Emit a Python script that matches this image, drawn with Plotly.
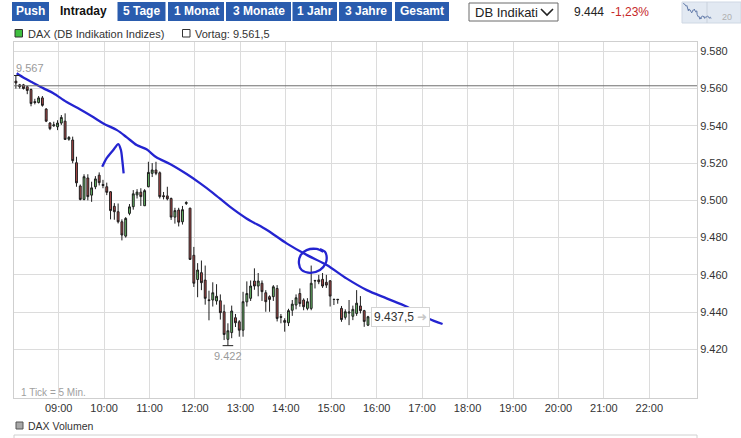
import plotly.graph_objects as go
import pandas as pd

W, H = 741, 438
DAY = "2014-10-07"

# ---------------- data ----------------
first_candle = "08:03:30"
opens = [9564.0, 9562.0, 9562.0, 9561.0, 9559.5, 9553.0, 9552.5, 9555.0, 9549.0, 9541.5,
         9540.0, 9539.5, 9541.5, 9542.5, 9532.8, 9532.4, 9520.2, 9507.7, 9500.5, 9512.0,
         9502.8, 9507.3, 9513.5, 9508.5, 9507.3, 9504.6, 9496.8, 9493.9, 9488.5, 9480.8,
         9493.0, 9496.6, 9502.9, 9504.4, 9497.1, 9507.3, 9514.5, 9516.3, 9514.8, 9502.5,
         9502.4, 9501.0, 9491.0, 9494.8, 9488.5, 9498.3, 9495.8, 9470.5, 9457.5, 9461.2,
         9457.2, 9446.6, 9446.5, 9446.0, 9446.1, 9440.2, 9425.4, 9429.0, 9437.0, 9434.8,
         9430.3, 9445.5, 9447.4, 9456.7, 9454.0, 9455.5, 9450.4, 9448.3, 9448.3, 9452.7,
         9437.6, 9435.5, 9434.3, 9441.0, 9443.8, 9450.0, 9446.5, 9442.0, 9442.0, 9457.0,
         9457.3, 9457.6, 9456.0, 9456.8, 9446.9, 9446.9, 9442.0, 9437.2, 9439.5, 9437.8,
         9439.3, 9443.3, 9440.8, 9433.0]
highs = [9567.0, 9562.5, 9562.5, 9561.5, 9560.0, 9554.5, 9556.0, 9556.0, 9549.5, 9542.0,
         9542.2, 9543.0, 9545.8, 9546.7, 9534.5, 9534.2, 9523.4, 9508.5, 9514.0, 9514.0,
         9510.0, 9513.0, 9515.0, 9511.0, 9509.5, 9505.0, 9498.5, 9498.3, 9489.8, 9491.0,
         9498.0, 9505.5, 9506.0, 9506.5, 9506.0, 9520.7, 9520.0, 9520.7, 9515.5, 9504.5,
         9507.3, 9501.5, 9496.0, 9496.0, 9497.0, 9499.5, 9496.0, 9475.0, 9466.3, 9467.7,
         9465.0, 9451.5, 9456.0, 9455.0, 9449.5, 9444.0, 9434.0, 9443.5, 9439.0, 9435.7,
         9450.9, 9456.5, 9457.0, 9463.5, 9461.0, 9457.0, 9451.8, 9449.0, 9454.5, 9454.5,
         9439.0, 9436.7, 9441.8, 9446.5, 9449.5, 9452.7, 9447.4, 9447.5, 9465.0, 9457.3,
         9460.0, 9461.0, 9460.0, 9457.2, 9447.0, 9447.0, 9443.3, 9441.5, 9446.5, 9443.5,
         9451.8, 9448.6, 9441.2, 9438.0]
lows = [9560.0, 9560.0, 9559.5, 9557.0, 9550.5, 9551.5, 9552.0, 9550.3, 9542.0, 9537.7,
        9539.5, 9537.7, 9540.5, 9532.5, 9532.0, 9519.9, 9507.3, 9500.0, 9500.0, 9500.0,
        9499.2, 9506.0, 9508.0, 9506.5, 9502.8, 9489.8, 9489.6, 9487.6, 9478.5, 9480.0,
        9492.0, 9495.0, 9501.0, 9497.0, 9497.0, 9507.0, 9512.5, 9513.5, 9501.0, 9500.5,
        9500.0, 9489.5, 9487.5, 9486.0, 9487.0, 9497.5, 9468.0, 9453.5, 9448.0, 9451.8,
        9444.0, 9435.6, 9443.0, 9444.0, 9436.0, 9425.0, 9422.0, 9426.0, 9432.0, 9426.8,
        9426.8, 9443.0, 9446.0, 9452.0, 9448.5, 9446.0, 9440.2, 9440.2, 9446.0, 9435.0,
        9434.0, 9429.5, 9432.5, 9438.0, 9441.5, 9442.9, 9441.0, 9441.0, 9441.0, 9452.7,
        9455.0, 9453.0, 9453.0, 9443.0, 9443.8, 9444.5, 9434.8, 9436.0, 9433.0, 9435.7,
        9438.0, 9439.3, 9432.1, 9432.5]
closes = [9563.0, 9561.0, 9560.0, 9559.0, 9552.0, 9552.5, 9555.0, 9551.0, 9542.5, 9538.5,
          9540.5, 9541.5, 9544.5, 9532.7, 9533.8, 9521.3, 9509.4, 9500.5, 9512.7, 9502.0,
          9506.7, 9511.5, 9509.5, 9508.0, 9504.3, 9494.5, 9493.9, 9488.5, 9481.4, 9490.3,
          9496.5, 9503.5, 9504.4, 9502.0, 9505.2, 9515.0, 9516.3, 9514.5, 9502.0, 9502.0,
          9500.8, 9491.0, 9494.5, 9488.3, 9495.0, 9498.8, 9468.3, 9455.5, 9462.6, 9455.8,
          9447.4, 9446.2, 9450.4, 9448.5, 9439.7, 9428.0, 9430.0, 9440.6, 9434.3, 9430.3,
          9445.6, 9450.0, 9454.0, 9454.0, 9456.7, 9451.0, 9445.6, 9446.8, 9453.6, 9436.6,
          9437.2, 9434.5, 9440.8, 9444.3, 9447.7, 9444.6, 9442.9, 9445.6, 9455.5, 9456.8,
          9456.3, 9454.0, 9454.5, 9448.6, 9446.8, 9446.7, 9436.0, 9440.2, 9440.0, 9441.5,
          9444.8, 9440.8, 9435.0, 9437.5]

vortag = 9561.5
day_high = 9567
day_low = 9422
last_price = 9437.5
low_index = 56

y_ticks = [9420, 9440, 9460, 9480, 9500, 9520, 9540, 9560, 9580]
y_tick_text = ["9.420", "9.440", "9.460", "9.480", "9.500", "9.520", "9.540", "9.560", "9.580"]
x_tick_times = ["09:00", "10:00", "11:00", "12:00", "13:00", "14:00", "15:00",
                "16:00", "17:00", "18:00", "19:00", "20:00", "21:00", "22:00"]

# hand-drawn blue annotations (minutes after 08:00, index level)
trend_min = [4.5, 15, 26, 40, 53, 70, 88, 106, 119, 137, 150, 163, 176, 189, 207, 229,
             247, 264, 286, 308, 335, 361, 388, 414, 440, 467, 493, 520, 548, 567]
trend_val = [9568.2, 9565.5, 9563.1, 9560.1, 9557.5, 9552.9, 9548.9, 9544.6, 9541.3, 9537.7,
             9533.8, 9529.7, 9527.4, 9523.1, 9519.5, 9514.1, 9509.1, 9503.9, 9496.6, 9490.3,
             9484.1, 9476.9, 9470.6, 9465.3, 9458.1, 9451.8, 9447.4, 9442.9, 9436.6, 9433.6]
hook_min = [117.5, 123.4, 132.1, 138.7, 142.2, 144.0, 145.8]
hook_val = [9518.0, 9522.6, 9527.0, 9530.2, 9527.0, 9521.6, 9514.5]
circle_min = [409.4, 400.7, 387.5, 379.6, 377.3, 380.9, 391.9, 405.1, 412.6, 413.9, 411.7, 405.1]
circle_val = [9472.4, 9473.9, 9473.3, 9470.6, 9466.2, 9462.6, 9461.1, 9462.6, 9466.2, 9469.7,
              9472.4, 9473.9]

buttons = ["Push", "Intraday", "5 Tage", "1 Monat", "3 Monate", "1 Jahr", "3 Jahre", "Gesamt"]
selected_button = "Intraday"
header_price = "9.444"
header_change = "-1,23%"

# ---------------- helpers ----------------
def px(x):
    return x / W

def py(y):
    return 1 - y / H

base = pd.Timestamp(f"{DAY} 08:00")
times = pd.date_range(f"{DAY} {first_candle}", periods=len(opens), freq="5min")
tick_vals = [pd.Timestamp(f"{DAY} {t}") for t in x_tick_times]

def mins_to_time(mins):
    return [base + pd.Timedelta(minutes=m) for m in mins]

FONT = "Liberation Sans, Arial, sans-serif"
BLUE_BTN = "#2a5cae"
HAND = "#2424d0"

fig = go.Figure()

fig.add_trace(go.Candlestick(
    x=times, open=opens, high=highs, low=lows, close=closes,
    increasing=dict(line=dict(color="#1e1e1e", width=1), fillcolor="#6cc36c"),
    decreasing=dict(line=dict(color="#1e1e1e", width=1), fillcolor="#b34a4a"),
    whiskerwidth=0, showlegend=False, hoverinfo="skip",
))

for xs, ys in [(trend_min, trend_val), (hook_min, hook_val), (circle_min, circle_val)]:
    fig.add_trace(go.Scatter(
        x=mins_to_time(xs), y=ys, mode="lines",
        line=dict(color=HAND, width=2.3, shape="spline", smoothing=0.8),
        showlegend=False, hoverinfo="skip",
    ))

# mini thumbnail chart
fig.add_trace(go.Scatter(
    x=times, y=closes, mode="lines", xaxis="x2", yaxis="y2",
    line=dict(color="#5f78a8", width=1), showlegend=False, hoverinfo="skip",
))

shapes = []
annotations = []

# Vortag line
shapes.append(dict(type="line", xref="paper", yref="y", x0=px(14), x1=px(697),
                   y0=vortag, y1=vortag, line=dict(color="#6e6e6e", width=1)))
# high / low marker lines
shapes.append(dict(type="line", xref="x", yref="y",
                   x0=times[0] - pd.Timedelta(minutes=5), x1=times[0] + pd.Timedelta(minutes=5),
                   y0=day_high, y1=day_high, line=dict(color="#222", width=1)))
shapes.append(dict(type="line", xref="x", yref="y",
                   x0=times[low_index] - pd.Timedelta(minutes=7), x1=times[low_index] + pd.Timedelta(minutes=7),
                   y0=day_low, y1=day_low, line=dict(color="#222", width=1)))

annotations.append(dict(x=times[0], y=day_high, xref="x", yref="y", text="9.567",
                        showarrow=False, xanchor="left", yanchor="bottom", xshift=-2, yshift=0,
                        font=dict(family=FONT, size=11, color="#9a9a9a")))
annotations.append(dict(x=times[low_index], y=day_low, xref="x", yref="y", text="9.422",
                        showarrow=False, xanchor="center", yanchor="top", yshift=-2,
                        font=dict(family=FONT, size=11, color="#9a9a9a")))
annotations.append(dict(x=times[-1], y=last_price, xref="x", yref="y",
                        text="9.437,5 <span style='color:#c8c8c8'>➜</span>",
                        showarrow=False, xanchor="left", yanchor="middle", xshift=3,
                        bgcolor="white", bordercolor="#d4d4d4", borderwidth=1, borderpad=2,
                        font=dict(family=FONT, size=12, color="#333")))
annotations.append(dict(x=px(19), y=py(392), xref="paper", yref="paper", text="1 Tick = 5 Min.",
                        showarrow=False, xanchor="left", yanchor="middle",
                        font=dict(family=FONT, size=10, color="#a0a0a0")))

# header buttons
btn_pos = [(12, 49), (50, 117), (117.5, 165.5), (168, 224), (226, 291), (292.5, 337), (339, 392), (395, 449)]
for label, (x0, x1) in zip(buttons, btn_pos):
    sel = label == selected_button
    if not sel:
        shapes.append(dict(type="rect", xref="paper", yref="paper", x0=px(x0), x1=px(x1),
                           y0=py(21), y1=py(2), fillcolor=BLUE_BTN, line=dict(width=0)))
    annotations.append(dict(x=px((x0 + x1) / 2), y=py(11.5), xref="paper", yref="paper",
                            text=f"<b>{label}</b>", showarrow=False, xanchor="center", yanchor="middle",
                            font=dict(family=FONT, size=12, color="#111" if sel else "white")))

# dropdown
shapes.append(dict(type="rect", xref="paper", yref="paper", x0=px(469), x1=px(558),
                   y0=py(21), y1=py(3), fillcolor="white", line=dict(color="#6a6a6a", width=1)))
shapes.append(dict(type="path", xref="paper", yref="paper",
                   path=f"M {px(541)},{py(9)} L {px(547)},{py(15)} L {px(553)},{py(9)}",
                   line=dict(color="#222", width=1.6)))
annotations.append(dict(x=px(473), y=py(12), xref="paper", yref="paper", text="DB Indikati",
                        showarrow=False, xanchor="left", yanchor="middle",
                        font=dict(family=FONT, size=13, color="#222")))
annotations.append(dict(x=px(572), y=py(12), xref="paper", yref="paper", text=header_price,
                        showarrow=False, xanchor="left", yanchor="middle",
                        font=dict(family=FONT, size=12, color="#222")))
annotations.append(dict(x=px(609), y=py(12), xref="paper", yref="paper", text=header_change,
                        showarrow=False, xanchor="left", yanchor="middle",
                        font=dict(family=FONT, size=12, color="#c62828")))

# thumbnail bg
shapes.append(dict(type="rect", xref="paper", yref="paper", x0=px(682), x1=px(741),
                   y0=py(23), y1=py(2), fillcolor="#e2e9f2", line=dict(color="#cfd8e4", width=1),
                   layer="below"))
shapes.append(dict(type="line", xref="paper", yref="paper", x0=px(707), x1=px(707),
                   y0=py(23), y1=py(2), line=dict(color="#c9d1dc", width=1), layer="below"))
annotations.append(dict(x=px(727), y=py(17), xref="paper", yref="paper", text="20",
                        showarrow=False, xanchor="center", yanchor="middle",
                        font=dict(family=FONT, size=9, color="#b0b0b0")))

# legend row
shapes.append(dict(type="rect", xref="paper", yref="paper", x0=px(15), x1=px(22.5),
                   y0=py(37), y1=py(29.5), fillcolor="#3fbf3f", line=dict(color="#333", width=1)))
annotations.append(dict(x=px(26), y=py(33.5), xref="paper", yref="paper",
                        text="DAX (DB Indikation Indizes)", showarrow=False, xanchor="left",
                        yanchor="middle", font=dict(family=FONT, size=11, color="#333")))
shapes.append(dict(type="rect", xref="paper", yref="paper", x0=px(182.5), x1=px(190),
                   y0=py(37), y1=py(29.5), fillcolor="white", line=dict(color="#333", width=1)))
annotations.append(dict(x=px(193), y=py(33.5), xref="paper", yref="paper",
                        text="Vortag: 9.561,5", showarrow=False, xanchor="left",
                        yanchor="middle", font=dict(family=FONT, size=11, color="#333")))

# volume panel header
shapes.append(dict(type="rect", xref="paper", yref="paper", x0=px(16), x1=px(23),
                   y0=py(429), y1=py(422), fillcolor="#a8a8a8", line=dict(color="#555", width=1)))
annotations.append(dict(x=px(26), y=py(425.5), xref="paper", yref="paper",
                        text="DAX Volumen", showarrow=False, xanchor="left",
                        yanchor="middle", font=dict(family=FONT, size=10.5, color="#333")))
shapes.append(dict(type="rect", xref="paper", yref="paper", x0=px(14), x1=px(697),
                   y0=py(446), y1=py(435), fillcolor="white", line=dict(color="#d0d0d0", width=1)))

fig.update_layout(
    width=W, height=H,
    margin=dict(l=0, r=0, t=0, b=0),
    paper_bgcolor="white", plot_bgcolor="white",
    shapes=shapes, annotations=annotations,
    showlegend=False,
    xaxis=dict(
        domain=[px(14), px(697)],
        range=[base + pd.Timedelta(minutes=1), base + pd.Timedelta(minutes=903)],
        type="date", tickvals=tick_vals, ticktext=x_tick_times,
        showgrid=True, gridcolor="#dcdcdc", gridwidth=1,
        showline=True, linecolor="#cfcfcf", mirror=True,
        ticks="", zeroline=False, rangeslider=dict(visible=False),
        tickfont=dict(family=FONT, size=11, color="#333"), automargin=False,
        fixedrange=True,
    ),
    yaxis=dict(
        domain=[py(398), py(42)],
        range=[9393.9, 9585.0], side="right",
        tickvals=y_ticks, ticktext=y_tick_text,
        showgrid=True, gridcolor="#dcdcdc", gridwidth=1,
        showline=True, linecolor="#cfcfcf", mirror=True,
        ticks="", zeroline=False,
        tickfont=dict(family=FONT, size=11, color="#333"), automargin=False,
        fixedrange=True,
    ),
    xaxis2=dict(domain=[px(683), px(741)], anchor="y2",
                range=[base, base + pd.Timedelta(hours=16)],
                visible=False, fixedrange=True),
    yaxis2=dict(domain=[py(23), py(2)], anchor="x2", range=[9395, 9575],
                visible=False, fixedrange=True),
)

fig.write_html(
    "out.html",
    config={"displayModeBar": False},
    post_script="document.body.style.margin='0';document.body.style.overflow='hidden';",
)
